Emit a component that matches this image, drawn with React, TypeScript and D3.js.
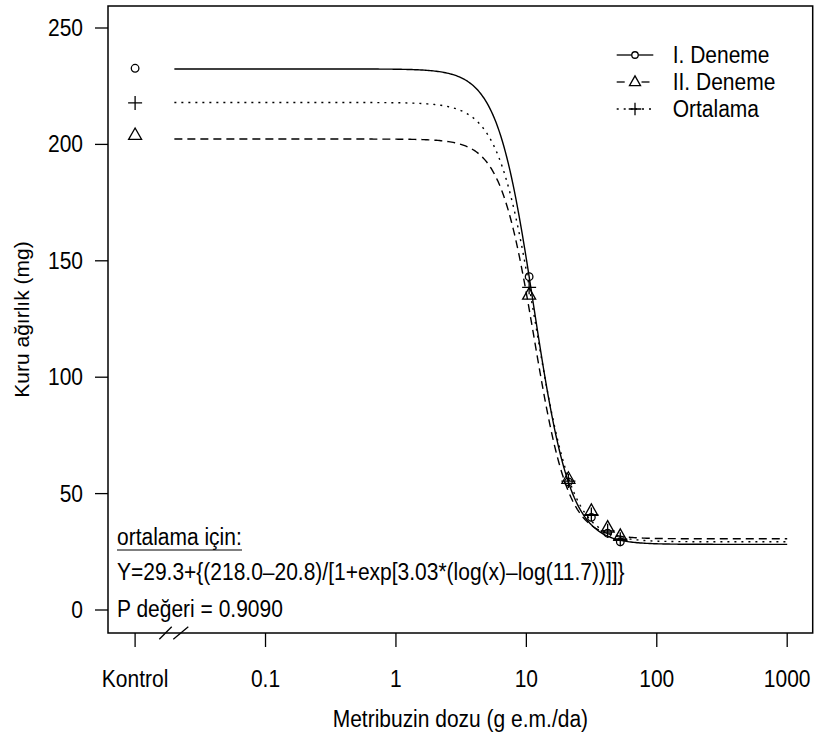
import React from "react";
import * as d3 from "d3";

// ---- data ----
const doses = [10.5, 21, 31.5, 42, 52.5];
const seriesNames = ["I. Deneme", "II. Deneme", "Ortalama"];
const kontrolValues = [232.7, 204.0, 217.8];
const deneme1 = [143.2, 55.0, 39.8, 33.0, 29.3];
const deneme2 = [135.4, 56.3, 42.5, 35.3, 31.8];
const ortalama = [138.6, 55.4, 41.0, 34.0, 30.4];
const lowerC = [28.2, 30.6, 29.3];
const upperD = [232.4, 202.3, 218.0];
const slopeB = [3.1, 3.33, 3.03];
const ed50E = [11.4, 11.5, 11.7];
const xTickValues = [0.1, 1, 10, 100, 1000];
const xTickLabels = ["0.1", "1", "10", "100", "1000"];
const yTickValues = [0, 50, 100, 150, 200, 250];
const kontrolDose = 0.01;
const breakDose = 0.02;

const FONT = "'Liberation Sans', Arial, Helvetica, sans-serif";
const SY = 1.15;

function T({ x, y, anchor = "start", size = 21, children }: any) {
  return (
    <text
      transform={`translate(${x},${y}) scale(1,${SY})`}
      textAnchor={anchor}
      fontSize={size}
      fontFamily={FONT}
      fill="#000"
    >
      {children}
    </text>
  );
}

function Marker({ kind, x, y, s = 1 }: any) {
  const st = { fill: "none", stroke: "#000", strokeWidth: 1.3 };
  if (kind === 0) return <circle cx={x} cy={y} r={3.8 * s} {...st} />;
  if (kind === 1) {
    const w = 6.5 * s, h = 11.5 * s;
    return <path d={`M${x},${y - h * 0.62}L${x + w},${y + h * 0.38}L${x - w},${y + h * 0.38}Z`} {...st} />;
  }
  const p = 7 * s;
  return <path d={`M${x - p},${y}H${x + p}M${x},${y - p}V${y + p}`} {...st} />;
}

export default function App() {
  const W = 814, H = 745;
  const left = 108, right = 812.7, top = 6, bottom = 633;
  const x = d3.scaleLog().domain([0.01, 1000]).range([135.1, 787.2]);
  const y = d3.scaleLinear().domain([0, 250]).range([610, 28]);

  const series = [deneme1, deneme2, ortalama];
  const dashes = ["none", "8,5", "2,5"];

  const grid = d3.range(0, 401).map((i) => Math.pow(10, Math.log10(breakDose) + (i / 400) * (3 - Math.log10(breakDose))));
  const line = d3.line<[number, number]>().x((d) => x(d[0])).y((d) => y(d[1]));
  const f = (k: number, d: number) =>
    lowerC[k] + (upperD[k] - lowerC[k]) / (1 + Math.exp(slopeB[k] * (Math.log(d) - Math.log(ed50E[k]))));

  const legendY = [55, 82, 109];
  const gapHalf = [3.2, 6.5, 0];

  return (
    <div style={{ position: "absolute", left: 0, top: 0 }}>
      <svg width={W} height={H} style={{ display: "block", background: "#fff" }}>
        <rect x={0} y={0} width={W} height={H} fill="#fff" />
        {/* curves */}
        {[0, 1, 2].map((k) => (
          <path
            key={"c" + k}
            d={line(grid.map((d) => [d, f(k, d)] as [number, number])) || ""}
            fill="none"
            stroke="#000"
            strokeWidth={1.4}
            strokeDasharray={dashes[k]}
          />
        ))}
        {/* points */}
        {[0, 1, 2].map((k) => (
          <g key={"p" + k}>
            <Marker kind={k} x={x(kontrolDose)} y={y(kontrolValues[k])} />
            {doses.map((d, i) => (
              <Marker key={i} kind={k} x={x(d)} y={y(series[k][i])} />
            ))}
          </g>
        ))}
        {/* frame */}
        <rect x={left} y={top} width={right - left} height={bottom - top} fill="none" stroke="#000" strokeWidth={1.5} />
        {/* y axis */}
        {yTickValues.map((v) => (
          <g key={"y" + v}>
            <line x1={95} x2={left} y1={y(v)} y2={y(v)} stroke="#000" strokeWidth={1.3} />
            <T x={83} y={y(v) + 8} anchor="end">{String(v)}</T>
          </g>
        ))}
        {/* x axis */}
        <line x1={x(kontrolDose)} x2={x(kontrolDose)} y1={bottom} y2={bottom + 14} stroke="#000" strokeWidth={1.3} />
        <T x={x(kontrolDose)} y={687} anchor="middle">Kontrol</T>
        {xTickValues.map((v, i) => (
          <g key={"x" + v}>
            <line x1={x(v)} x2={x(v)} y1={bottom} y2={bottom + 14} stroke="#000" strokeWidth={1.3} />
            <T x={x(v)} y={687} anchor="middle">{xTickLabels[i]}</T>
          </g>
        ))}
        {/* axis break */}
        <line x1={159.3} y1={639.3} x2={171.7} y2={626.7} stroke="#000" strokeWidth={1.3} />
        <line x1={173.3} y1={639.3} x2={188.3} y2={626.7} stroke="#000" strokeWidth={1.3} />
        {/* titles */}
        <T x={(left + right) / 2} y={727} anchor="middle">Metribuzin dozu (g e.m./da)</T>
        <text
          transform={`translate(29,${(top + bottom) / 2}) rotate(-90)`}
          textAnchor="middle"
          fontSize={21}
          fontFamily={FONT}
        >
          Kuru ağırlık (mg)
        </text>
        {/* legend */}
        {seriesNames.map((n, k) => (
          <g key={"l" + k}>
            <line x1={616.7} x2={635 - gapHalf[k]} y1={legendY[k]} y2={legendY[k]} stroke="#000" strokeWidth={1.3} strokeDasharray={dashes[k]} />
            <line x1={635 + gapHalf[k]} x2={653.3} y1={legendY[k]} y2={legendY[k]} stroke="#000" strokeWidth={1.3} strokeDasharray={dashes[k]} />
            <Marker kind={k} x={635} y={legendY[k]} s={k === 2 ? 0.9 : 0.85} />
            <T x={672.7} y={legendY[k] + 8}>{n}</T>
          </g>
        ))}
        {/* annotation */}
        <T x={117} y={545}>ortalama için:</T>
        <line x1={117} x2={242} y1={550} y2={550} stroke="#000" strokeWidth={1.2} />
        <T x={117} y={580}>Y=29.3+{"{"}(218.0–20.8)/[1+exp[3.03*(log(x)–log(11.7))]]{"}"}</T>
        <T x={117} y={617}>P değeri = 0.9090</T>
      </svg>
    </div>
  );
}
